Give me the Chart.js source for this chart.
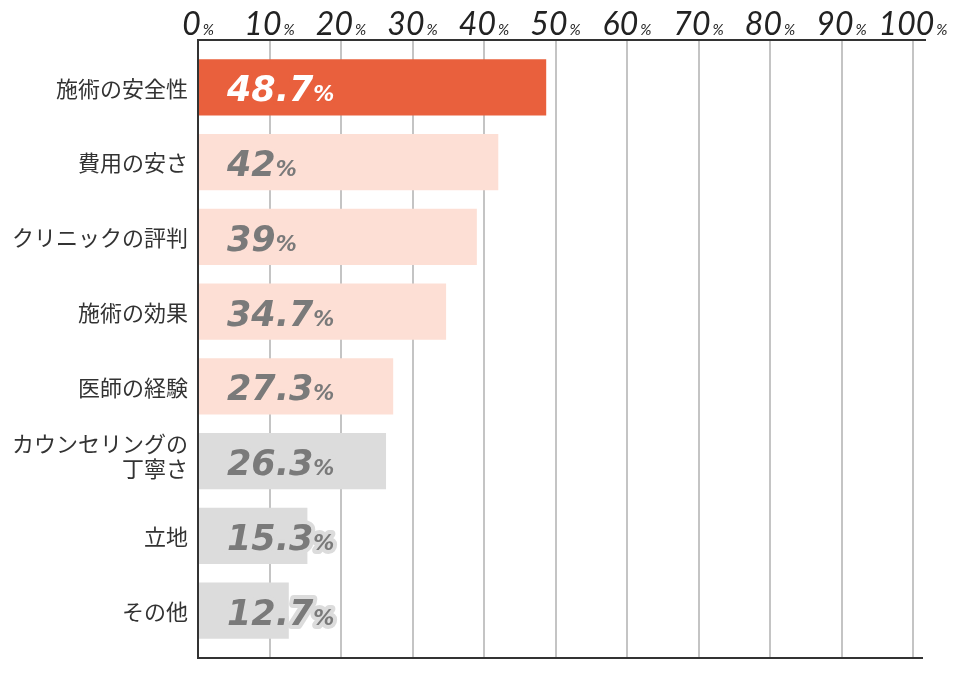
<!DOCTYPE html>
<html>
<head>
<meta charset="utf-8">
<script src="https://cdn.jsdelivr.net/npm/chart.js@4.4.0/dist/chart.umd.min.js"></script>
<style>
  html, body { margin: 0; padding: 0; background: #fff; }
  #wrap { width: 960px; height: 678px; }
</style>
</head>
<body>
<div id="wrap"><canvas id="myChart" width="960" height="678"></canvas></div>
<script>
// data
var categories = ['施術の安全性', '費用の安さ', 'クリニックの評判', '施術の効果', '医師の経験', ['カウンセリングの', '丁寧さ'], '立地', 'その他'];
var values = [48.7, 42, 39, 34.7, 27.3, 26.3, 15.3, 12.7];
var xTicks = [0, 10, 20, 30, 40, 50, 60, 70, 80, 90, 100];

var barColors = ['#e9603d', '#fddfd5', '#fddfd5', '#fddfd5', '#fddfd5', '#dcdcdc', '#dcdcdc', '#dcdcdc'];
var textColors = ['#ffffff', '#7a7a7a', '#7a7a7a', '#7a7a7a', '#7a7a7a', '#7a7a7a', '#7a7a7a', '#7a7a7a'];

var tickFont = 'Lato, "Noto Sans", sans-serif';
var valFont = '"DejaVu Sans", sans-serif';
var jpFont = '"Noto Sans CJK JP", sans-serif';

// grid behind bars, frame + texts on top
var framePlugin = {
  id: 'frame',
  beforeDatasetsDraw: function(chart) {
    var ctx = chart.ctx, a = chart.chartArea, x = chart.scales.x;
    ctx.save();
    ctx.strokeStyle = '#c4c4c4';
    ctx.lineWidth = 2;
    xTicks.forEach(function(t) {
      if (t === 0) return;
      var px = Math.round(x.getPixelForValue(t));
      ctx.beginPath();
      ctx.moveTo(px, a.top - 10);
      ctx.lineTo(px, a.bottom + 10);
      ctx.stroke();
    });
    ctx.restore();
  },
  afterDatasetsDraw: function(chart) {
    var ctx = chart.ctx, a = chart.chartArea, x = chart.scales.x, y = chart.scales.y;
    var left = x.getPixelForValue(0);
    ctx.save();

    // frame lines
    ctx.strokeStyle = '#333';
    ctx.lineWidth = 2;
    ctx.beginPath();
    ctx.moveTo(left, a.top - 10);
    ctx.lineTo(a.right + 13, a.top - 10);
    ctx.moveTo(left, a.top - 11);
    ctx.lineTo(left, a.bottom + 11);
    ctx.moveTo(left, a.bottom + 10);
    ctx.lineTo(a.right + 10, a.bottom + 10);
    ctx.stroke();

    // value labels in the bars
    ctx.textBaseline = 'alphabetic';
    ctx.textAlign = 'left';
    ctx.lineJoin = 'round';
    values.forEach(function(v, i) {
      var by = y.getPixelForValue(i) + 14;
      var bx = left + 29;
      var num = String(v);
      ctx.font = 'italic bold 35px ' + valFont;
      var w = ctx.measureText(num).width;
      ctx.strokeStyle = barColors[i];
      ctx.lineWidth = 8;
      ctx.strokeText(num, bx, by);
      ctx.font = 'italic bold 21px ' + valFont;
      ctx.strokeText('%', bx + w, by);
      ctx.fillStyle = textColors[i];
      ctx.font = 'italic bold 35px ' + valFont;
      ctx.fillText(num, bx, by);
      ctx.font = 'italic bold 21px ' + valFont;
      ctx.fillText('%', bx + w, by);
    });

    // x tick labels on top
    ctx.fillStyle = '#222';
    xTicks.forEach(function(t) {
      var px = x.getPixelForValue(t);
      var num = String(t);
      ctx.font = 'italic 400 32px ' + tickFont;
      var w1 = ctx.measureText(num).width;
      ctx.font = 'italic 400 15px ' + tickFont;
      var w2 = ctx.measureText('%').width;
      var sx = px - (w1 + w2 + 2) / 2;
      ctx.font = 'italic 400 32px ' + tickFont;
      ctx.fillText(num, sx, a.top - 15);
      ctx.font = 'italic 400 15px ' + tickFont;
      ctx.fillText('%', sx + w1 + 2, a.top - 15);
    });

    // category labels
    ctx.fillStyle = '#333';
    ctx.textAlign = 'right';
    ctx.textBaseline = 'middle';
    ctx.font = '400 22px ' + jpFont;
    categories.forEach(function(c, i) {
      var cy = y.getPixelForValue(i);
      var rx = left - 10;
      if (Array.isArray(c)) {
        ctx.fillText(c[0], rx, cy - 17);
        ctx.fillText(c[1], rx, cy + 8);
      } else {
        ctx.fillText(c, rx, cy + 1);
      }
    });
    ctx.restore();
  }
};

var ctx = document.getElementById('myChart');
var myChart = new Chart(ctx, {
  type: 'bar',
  data: {
    labels: categories,
    datasets: [{
      data: values,
      backgroundColor: barColors,
      borderWidth: 0,
      barPercentage: 0.75,
      categoryPercentage: 1
    }]
  },
  options: {
    indexAxis: 'y',
    responsive: false,
    animation: false,
    layout: { padding: { left: 198, right: 47, top: 50, bottom: 30 } },
    plugins: { legend: { display: false }, tooltip: { enabled: false } },
    scales: {
      x: { display: false, min: 0, max: 100 },
      y: { display: false }
    }
  },
  plugins: [framePlugin]
});
</script>
</body>
</html>
